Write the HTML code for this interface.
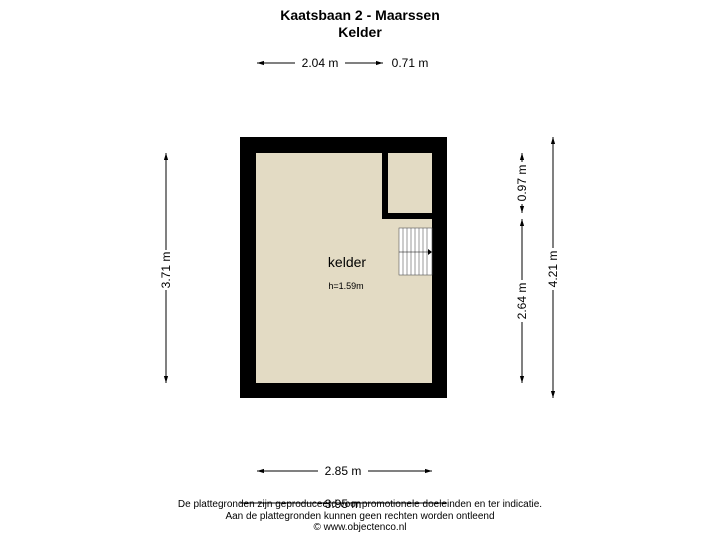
<!DOCTYPE html>
<html><head><meta charset="utf-8"><style>
body{margin:0;background:#fff;width:720px;height:540px;overflow:hidden}
text{font-family:"Liberation Sans",Arial,sans-serif;fill:#000}
</style></head><body>
<svg width="720" height="540" viewBox="0 0 720 540">
<defs>
<marker id="a" viewBox="0 0 10 10" refX="10" refY="5" markerWidth="7" markerHeight="7" orient="auto-start-reverse"><path d="M0,2 L10,5 L0,8z" fill="#000"/></marker>
</defs>
<text x="360" y="20" font-size="14" font-weight="bold" text-anchor="middle">Kaatsbaan 2 - Maarssen</text>
<text x="360" y="37" font-size="14" font-weight="bold" text-anchor="middle">Kelder</text>
<g stroke="#000" stroke-width="1" fill="none">
<line x1="257" y1="63" x2="295" y2="63" marker-start="url(#a)"/>
<line x1="345" y1="63" x2="383" y2="63" marker-end="url(#a)"/>
<line x1="166" y1="153" x2="166" y2="250" marker-start="url(#a)"/>
<line x1="166" y1="290" x2="166" y2="383" marker-end="url(#a)"/>
<line x1="522" y1="153" x2="522" y2="162" marker-start="url(#a)"/>
<line x1="522" y1="204" x2="522" y2="213" marker-end="url(#a)"/>
<line x1="522" y1="219" x2="522" y2="280" marker-start="url(#a)"/>
<line x1="522" y1="322" x2="522" y2="383" marker-end="url(#a)"/>
<line x1="553" y1="137" x2="553" y2="248" marker-start="url(#a)"/>
<line x1="553" y1="290" x2="553" y2="398" marker-end="url(#a)"/>
<line x1="257" y1="471" x2="318" y2="471" marker-start="url(#a)"/>
<line x1="368" y1="471" x2="432" y2="471" marker-end="url(#a)"/>
<line x1="240" y1="503" x2="447" y2="503"/>
</g>
<text x="320" y="67" font-size="12" text-anchor="middle">2.04 m</text>
<text x="410" y="67" font-size="12" text-anchor="middle">0.71 m</text>
<text x="343" y="475" font-size="12" text-anchor="middle">2.85 m</text>
<text x="343" y="508" font-size="12" text-anchor="middle">3.95 m</text>
<text transform="translate(170,270) rotate(-90)" font-size="12" text-anchor="middle">3.71 m</text>
<text transform="translate(526,183) rotate(-90)" font-size="12" text-anchor="middle">0.97 m</text>
<text transform="translate(526,301) rotate(-90)" font-size="12" text-anchor="middle">2.64 m</text>
<text transform="translate(557,269) rotate(-90)" font-size="12" text-anchor="middle">4.21 m</text>
<rect x="240" y="137" width="207" height="261" fill="#000"/>
<rect x="256" y="153" width="176" height="230" fill="#e3dbc4"/>
<rect x="382" y="153" width="6" height="66" fill="#000"/>
<rect x="382" y="213" width="50" height="6" fill="#000"/>
<g stroke="#555" stroke-width="0.6">
<rect x="399" y="228" width="33" height="47" fill="#fff"/>
<line x1="403" y1="228" x2="403" y2="275"/><line x1="407" y1="228" x2="407" y2="275"/>
<line x1="411" y1="228" x2="411" y2="275"/><line x1="415" y1="228" x2="415" y2="275"/>
<line x1="419" y1="228" x2="419" y2="275"/><line x1="423" y1="228" x2="423" y2="275"/>
<line x1="427" y1="228" x2="427" y2="275"/>
<line x1="399" y1="252" x2="430" y2="252" stroke="#000"/>
</g>
<path d="M428,249 L432,252 L428,255z" fill="#000"/>
<text x="347" y="267" font-size="14" text-anchor="middle">kelder</text>
<text x="346" y="289" font-size="9" text-anchor="middle">h=1.59m</text>
<text x="360" y="507" font-size="10" text-anchor="middle">De plattegronden zijn geproduceerd voor promotionele doeleinden en ter indicatie.</text>
<text x="360" y="519" font-size="10" text-anchor="middle">Aan de plattegronden kunnen geen rechten worden ontleend</text>
<text x="360" y="530" font-size="10" text-anchor="middle">© www.objectenco.nl</text>
</svg>
</body></html>
